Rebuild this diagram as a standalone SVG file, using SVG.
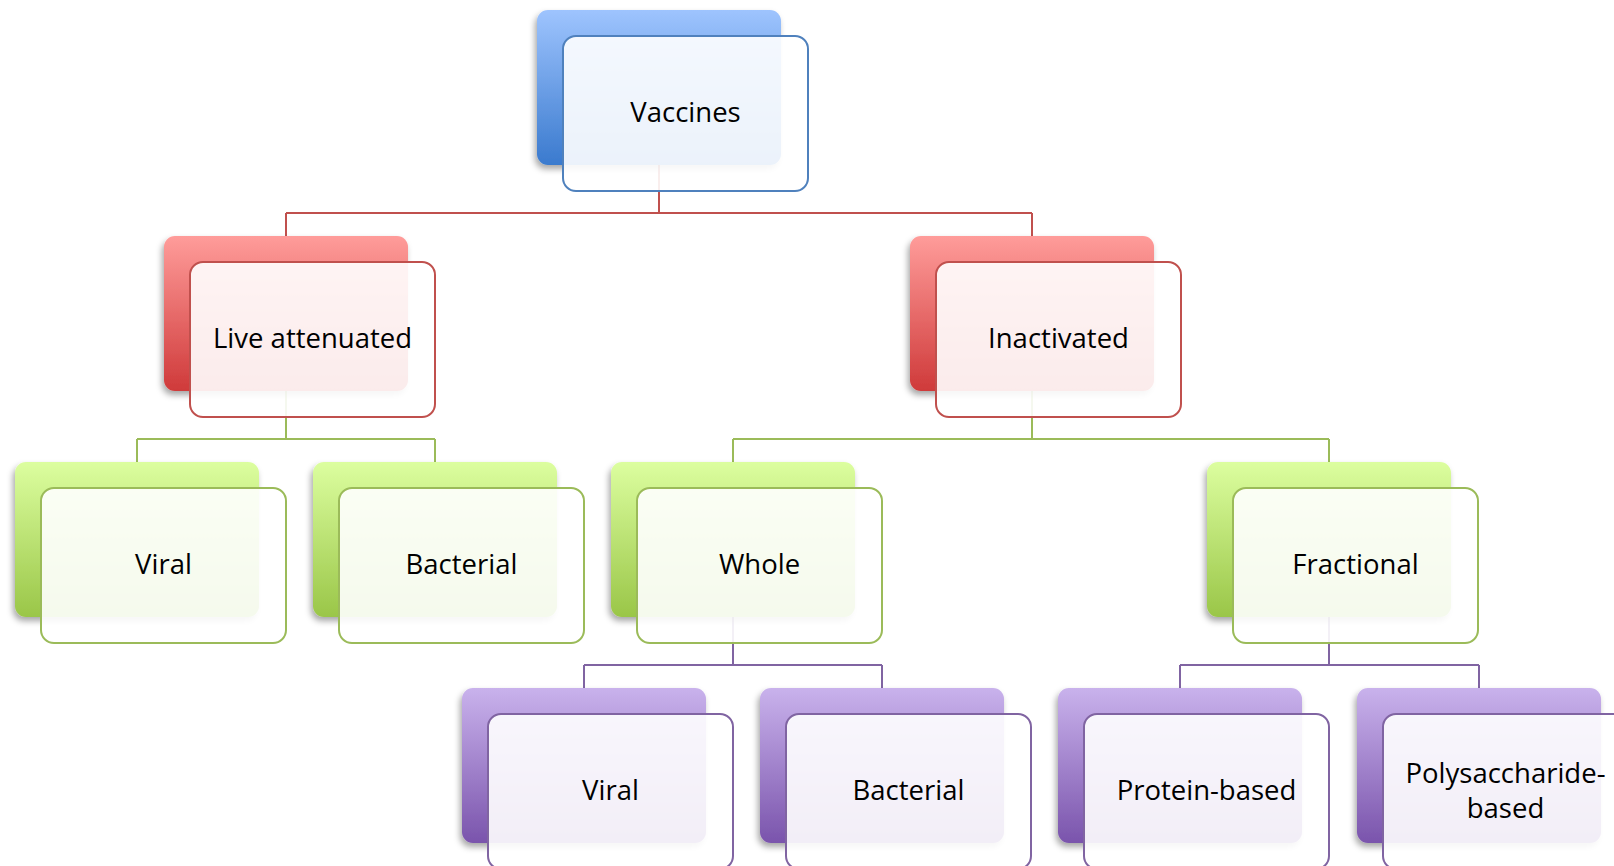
<svg xmlns="http://www.w3.org/2000/svg" width="1614" height="866" viewBox="0 0 1614 866">
<defs>
<linearGradient id="gBlue" x1="0" y1="0" x2="0" y2="1"><stop offset="0" stop-color="#9ec4fe"/><stop offset="1" stop-color="#3a7ace"/></linearGradient>
<linearGradient id="gRed" x1="0" y1="0" x2="0" y2="1"><stop offset="0" stop-color="#ff9c9a"/><stop offset="1" stop-color="#cf3a3a"/></linearGradient>
<linearGradient id="gGreen" x1="0" y1="0" x2="0" y2="1"><stop offset="0" stop-color="#dcfe9f"/><stop offset="1" stop-color="#9ac648"/></linearGradient>
<linearGradient id="gPurple" x1="0" y1="0" x2="0" y2="1"><stop offset="0" stop-color="#c9b2ec"/><stop offset="1" stop-color="#7a54ac"/></linearGradient>
<filter id="sh" x="-10%" y="-10%" width="120%" height="125%"><feDropShadow dx="-2" dy="4" stdDeviation="3" flood-color="#000" flood-opacity="0.35"/></filter>
</defs>
<style>
.back{filter:url(#sh)}
.front{fill:#ffffff;fill-opacity:0.9;stroke-width:2}
.b .back{fill:url(#gBlue)} .b .front{stroke:#4f81bd}
.r .back{fill:url(#gRed)} .r .front{stroke:#c0504d}
.g .back{fill:url(#gGreen)} .g .front{stroke:#9bbb59}
.p .back{fill:url(#gPurple)} .p .front{stroke:#8064a2}
text{font-family:"Open Sans","Liberation Sans",sans-serif;font-size:27.5px;fill:#000;text-anchor:middle}
.conn{fill:none;stroke-width:2}
.cr{stroke:#c0504d}.cg{stroke:#9bbb59}.cp{stroke:#8064a2}
</style>
<g id="connectors">
<path class="conn cr" d="M659,120V213M286,213H1032M286,213V240M1032,213V240"/>
<path class="conn cg" d="M286,340V439M137,439H435M137,439V466M435,439V466"/>
<path class="conn cg" d="M1032,340V439M733,439H1329M733,439V466M1329,439V466"/>
<path class="conn cp" d="M733,570V665M584,665H882M584,665V692M882,665V692"/>
<path class="conn cp" d="M1329,570V665M1180,665H1479M1180,665V692M1479,665V692"/>
</g>
<g id="n-vaccines" class="b"><rect class="back" x="537" y="10" width="244" height="155" rx="11"/><rect class="front" x="563" y="36" width="245" height="155" rx="13"/><text x="685.5" y="122">Vaccines</text></g>
<g id="n-live" class="r"><rect class="back" x="164" y="236" width="244" height="155" rx="11"/><rect class="front" x="190" y="262" width="245" height="155" rx="13"/><text x="312.5" y="348">Live attenuated</text></g>
<g id="n-inactivated" class="r"><rect class="back" x="910" y="236" width="244" height="155" rx="11"/><rect class="front" x="936" y="262" width="245" height="155" rx="13"/><text x="1058.5" y="348">Inactivated</text></g>
<g id="n-viral1" class="g"><rect class="back" x="15" y="462" width="244" height="155" rx="11"/><rect class="front" x="41" y="488" width="245" height="155" rx="13"/><text x="163.5" y="574">Viral</text></g>
<g id="n-bacterial1" class="g"><rect class="back" x="313" y="462" width="244" height="155" rx="11"/><rect class="front" x="339" y="488" width="245" height="155" rx="13"/><text x="461.5" y="574">Bacterial</text></g>
<g id="n-whole" class="g"><rect class="back" x="611" y="462" width="244" height="155" rx="11"/><rect class="front" x="637" y="488" width="245" height="155" rx="13"/><text x="759.5" y="574">Whole</text></g>
<g id="n-fractional" class="g"><rect class="back" x="1207" y="462" width="244" height="155" rx="11"/><rect class="front" x="1233" y="488" width="245" height="155" rx="13"/><text x="1355.5" y="574">Fractional</text></g>
<g id="n-viral2" class="p"><rect class="back" x="462" y="688" width="244" height="155" rx="11"/><rect class="front" x="488" y="714" width="245" height="155" rx="13"/><text x="610.5" y="800">Viral</text></g>
<g id="n-bacterial2" class="p"><rect class="back" x="760" y="688" width="244" height="155" rx="11"/><rect class="front" x="786" y="714" width="245" height="155" rx="13"/><text x="908.5" y="800">Bacterial</text></g>
<g id="n-protein" class="p"><rect class="back" x="1058" y="688" width="244" height="155" rx="11"/><rect class="front" x="1084" y="714" width="245" height="155" rx="13"/><text x="1206.5" y="800">Protein-based</text></g>
<g id="n-poly" class="p"><rect class="back" x="1357" y="688" width="244" height="155" rx="11"/><rect class="front" x="1383" y="714" width="245" height="155" rx="13"/><text x="1505.5" y="782.5">Polysaccharide-</text><text x="1505.5" y="817.5">based</text></g>
</svg>
